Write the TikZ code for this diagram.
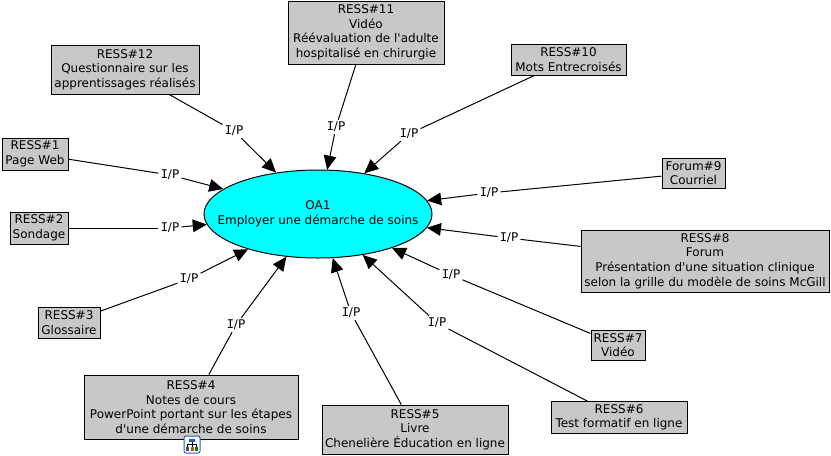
\documentclass[tikz,border=0pt]{standalone}
\usepackage{fontspec}
\setmainfont{DejaVu Sans}[Ligatures=TeXOff]
\newfontfamily\ipfont{DejaVu Sans Mono}
\usetikzlibrary{arrows.meta, shapes.geometric}
\definecolor{ressgray}{HTML}{C8C8C8}
\definecolor{oacyan}{HTML}{00FFFF}
\definecolor{iconblue}{HTML}{1F5FC8}
\newcommand{\ipmark}{{\ipfont I}/P}
\tikzset{
  ress/.style={draw, fill=ressgray, line width=0.75pt, inner sep=0pt, align=center,
               font=\fontsize{9}{10.9}\selectfont},
  oabox/.style={draw, ellipse, fill=oacyan, line width=0.75pt, inner ysep=0pt, inner xsep=-25pt,
                align=center, minimum width=171pt, minimum height=66pt,
                font=\fontsize{9}{10.9}\selectfont},
  iplabel/.style={inner sep=1.5pt, font=\fontsize{9}{10.9}\selectfont},
  link/.style={line width=0.75pt},
  linkto/.style={line width=0.75pt, -{Triangle[length=10.5pt, width=9.5pt]}}
}

\begin{document}
\begin{tikzpicture}[x=0.75pt, y=-0.75pt]
  \useasboundingbox (0,0) rectangle (831,455);

  % Objective
  \node[oabox] (oa1) at (318,214) {OA1\\Employer une démarche de soins};

  % Resources, left side
  \node[ress, minimum width=49.5pt, minimum height=24pt] (ress1) at (35,154) {RESS\#1\\Page Web};
  \node[ress, minimum width=43.5pt, minimum height=24pt] (ress2) at (39,228) {RESS\#2\\Sondage};
  \node[ress, minimum width=46.5pt, minimum height=23.25pt] (ress3) at (69,322.5) {RESS\#3\\Glossaire};
  \node[ress, minimum width=160.5pt, minimum height=48pt] (ress4) at (191,407) {RESS\#4\\Notes de cours\\PowerPoint portant sur les étapes\\d'une démarche de soins};
  \node[ress, minimum width=111pt, minimum height=36.75pt] (ress12) at (125,69.5) {RESS\#12\\Questionnaire sur les\\apprentissages réalisés};

  % Resources, top and bottom
  \node[ress, minimum width=117pt, minimum height=47.25pt] (ress11) at (366,32.5) {RESS\#11\\Vidéo\\Réévaluation de l'adulte\\hospitalisé en chirurgie};
  \node[ress, minimum width=139.5pt, minimum height=36.75pt] (ress5) at (415,429.5) {RESS\#5\\Livre\\Chenelière Éducation en ligne};
  \node[ress, minimum width=102pt, minimum height=24pt] (ress6) at (619,417.5) {RESS\#6\\Test formatif en ligne};

  % Resources, right side
  \node[ress, minimum width=86.25pt, minimum height=23.25pt] (ress10) at (568.5,59.5) {RESS\#10\\Mots Entrecroisés};
  \node[ress, minimum width=47.25pt, minimum height=22.5pt] (forum9) at (693.5,173) {Forum\#9\\Courriel};
  \node[ress, minimum width=186pt, minimum height=46.5pt] (ress8) at (705,261) {RESS\#8\\Forum\\Présentation d'une situation clinique\\selon la grille du modèle de soins McGill};
  \node[ress, minimum width=40.5pt, minimum height=22.5pt] (ress7) at (618,345) {RESS\#7\\Vidéo};

  % Link labels
  \node[iplabel] (ip1) at (170,175) {\ipmark};
  \node[iplabel] (ip2) at (170,228) {\ipmark};
  \node[iplabel] (ip3) at (189,279) {\ipmark};
  \node[iplabel] (ip4) at (236,325) {\ipmark};
  \node[iplabel] (ip5) at (351,313) {\ipmark};
  \node[iplabel] (ip6) at (437,323) {\ipmark};
  \node[iplabel] (ip7) at (451,275) {\ipmark};
  \node[iplabel] (ip8) at (509,238) {\ipmark};
  \node[iplabel] (ip9) at (489,193) {\ipmark};
  \node[iplabel] (ip10) at (409,134) {\ipmark};
  \node[iplabel] (ip11) at (336,127) {\ipmark};
  \node[iplabel] (ip12) at (234,131) {\ipmark};

  % Links
  \draw[link] (ress1) -- (ip1);
  \draw[linkto] (ip1) -- (oa1);
  \draw[link] (ress2) -- (ip2);
  \draw[linkto] (ip2) -- (oa1);
  \draw[link] (ress3) -- (ip3);
  \draw[linkto] (ip3) -- (oa1);
  \draw[link] (ress4) -- (ip4);
  \draw[linkto] (ip4) -- (oa1);
  \draw[link] (ress5) -- (ip5);
  \draw[linkto] (ip5) -- (oa1);
  \draw[link] (ress6) -- (ip6);
  \draw[linkto] (ip6) -- (oa1);
  \draw[link] (ress7) -- (ip7);
  \draw[linkto] (ip7) -- (oa1);
  \draw[link] (ress8) -- (ip8);
  \draw[linkto] (ip8) -- (oa1);
  \draw[link] (forum9) -- (ip9);
  \draw[linkto] (ip9) -- (oa1);
  \draw[link] (ress10) -- (ip10);
  \draw[linkto] (ip10) -- (oa1);
  \draw[link] (ress11) -- (ip11);
  \draw[linkto] (ip11) -- (oa1);
  \draw[link] (ress12) -- (ip12);
  \draw[linkto] (ip12) -- (oa1);

  % Map icon under RESS#4
  \draw[iconblue, fill=white, line width=0.75pt, rounded corners=1.5pt] (184,436) rectangle (200,453);
  \fill[iconblue] (189,438.5) rectangle (195,442);
  \draw[black, line width=0.4pt] (192,442) -- (192,444) (187.5,447) -- (187.5,444) -- (196.5,444) -- (196.5,447) (192,444) -- (192,447);
  \fill[black!70] (186,447) rectangle (189,450.5);
  \fill[orange!70!black] (190.5,447) rectangle (193.5,450.5);
  \fill[green!50!black] (195,447) rectangle (198,450.5);
\end{tikzpicture}
\end{document}
